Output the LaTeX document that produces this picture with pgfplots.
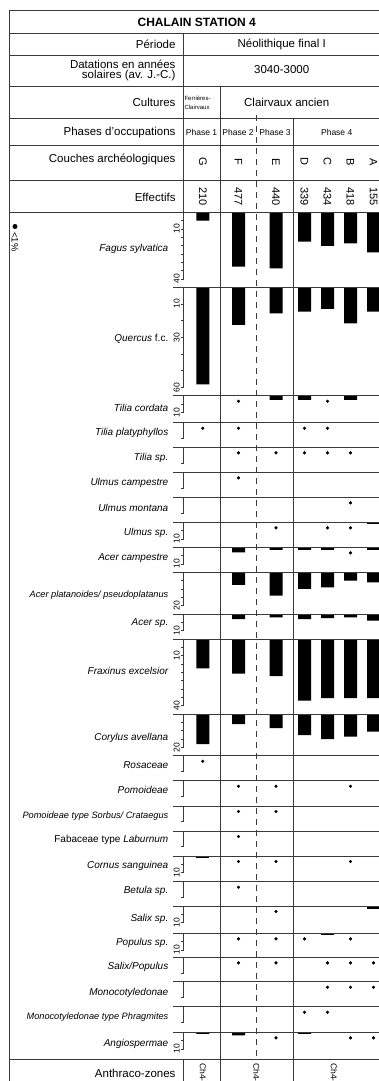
\documentclass[border=0pt]{standalone}
\usepackage{pgfplots}
\pgfplotsset{compat=1.18}
\usepackage{fontspec}
\setmainfont{Liberation Sans}

\definecolor{rule}{HTML}{3A3A3A}

\pgfplotsset{
  taxon/.style={
    anchor=north west, x=1pt, y=1.667pt, y dir=reverse,
    xmin=183.5, xmax=400, ymin=0,
    axis x line=none, axis y line*=left,
    axis line style={line width=0.8pt, rule},
    tick align=outside, major tick length=2.5pt, minor tick length=2.5pt,
    every tick/.style={line width=0.8pt, rule},
    yticklabel style={rotate=90, anchor=south, inner sep=1pt,
      font=\fontsize{8.5}{9}\selectfont},
    /pgf/number format/assume math mode=true,
    clip=false,
  },
  small/.style={ymax=9.4, ytick={9.4}, yticklabel style={opacity=0}},
  ten/.style={ymax=10, ytick={10}, minor ytick={5}},
}

% top of row, axis options, bars, dots (<1%), label, label y
\newcommand{\taxrow}[6]{%
  \begin{axis}[taxon, at={(183.5pt,-#1pt)}, #2]
    \if\relax\detokenize{#3}\relax\else
      \addplot[ybar, bar width=13pt, fill=black, draw=none] coordinates {#3};
    \fi
    \if\relax\detokenize{#4}\relax\else
      \addplot[only marks, mark=*, mark size=1.4pt, black,
        mark options={yshift=-4.7pt}] coordinates {#4};
    \fi
  \end{axis}
  \node[anchor=east, inner sep=0pt, font=\fontsize{10}{12}\selectfont\itshape]
    at (168.5pt,-#6pt) {#5};
  \draw[rule, line width=0.9pt] (173pt,-#1pt) -- (400pt,-#1pt);
}

\begin{document}
\begin{tikzpicture}
\useasboundingbox (0,0) rectangle (379pt,-1081pt);
\clip (0,0) rectangle (379pt,-1081pt);

\begin{scope}[x=1pt, y=-1pt]
  % frame and header lines
  \draw[rule, line width=0.9pt] (9.7,1090) -- (9.7,10.7) -- (400,10.7);
  \foreach \yy in {33.3,55.3,86.7,118.3,145,180,212.3,1059}
    \draw[rule, line width=0.9pt] (9.7,\yy) -- (400,\yy);
  \draw[rule, line width=0.9pt] (183.3,33.3) -- (183.3,212.3);
  \draw[rule, line width=0.9pt] (183.3,1059) -- (183.3,1090);
  \draw[rule, line width=0.9pt] (220.7,86.7) -- (220.7,1090);
  \draw[rule, line width=0.9pt] (293.7,118.3) -- (293.7,1090);
  \draw[rule, line width=0.9pt, dash pattern=on 6pt off 5pt] (256.3,115) -- (256.3,1059);

  \node[font=\fontsize{12}{14}\selectfont\bfseries] at (196.7,22.3) {CHALAIN STATION 4};
  \begin{scope}[every node/.style={font=\fontsize{11.5}{13}\selectfont, inner sep=0pt}]
    \node[anchor=east] at (175.7,44.3) {Période};
    \node at (281.7,44.3) {Néolithique final I};
    \node[anchor=east] at (175.7,64.3) {Datations en années};
    \node[anchor=east] at (175.7,75.5) {solaires (av. J.-C.)};
    \node at (281.7,69.3) {3040-3000};
    \node[anchor=east] at (175.7,102.7) {Cultures};
    \node at (286.7,102.7) {Clairvaux ancien};
    \node[anchor=east] at (175.7,132.3) {Phases d'occupations};
    \node[anchor=east] at (175.7,159.3) {Couches archéologiques};
    \node[anchor=east] at (175.7,197.5) {Effectifs};
    \node[anchor=east] at (175.7,1073.3) {Anthraco-zones};
  \end{scope}
  \node[anchor=west, inner sep=0pt, font=\fontsize{6}{6}\selectfont] at (184.3,98.3) {Ferrières-};
  \node[anchor=west, inner sep=0pt, font=\fontsize{6}{6}\selectfont] at (184.3,107.5) {Clairvaux};
  \begin{scope}[every node/.style={font=\fontsize{8.5}{10}\selectfont, inner sep=0pt}]
    \node at (201.5,132.3) {Phase 1};
    \node at (238,132.3) {Phase 2};
    \node at (275,132.3) {Phase 3};
    \node at (336.7,132.3) {Phase 4};
  \end{scope}
  \begin{scope}[every node/.style={font=\fontsize{11}{12}\selectfont, inner sep=0pt, rotate=-90}]
    \foreach \xx/\tt in {202.8/G,238.5/F,276/E,304.5/D,327.5/C,350.5/B,373.5/A}
      \node at (\xx,161.7) {\tt};
    \foreach \xx/\tt in {202.8/210,238.5/477,276/440,304.5/339,327.5/434,350.5/418,373.5/155}
      \node at (\xx,196.5) {\tt};
  \end{scope}
  \node[circle, fill=black, inner sep=0pt, minimum size=5pt] at (15,226.5) {};
  \node[rotate=-90, anchor=west, inner sep=0pt, font=\fontsize{9.5}{10}\selectfont] at (15,232) {<1\%};
  \begin{scope}[every node/.style={font=\fontsize{8.5}{10}\selectfont, inner sep=0pt, rotate=-90, anchor=west}]
    \node at (202.8,1063) {Ch4-1};
    \node at (256.5,1063) {Ch4-2};
    \node at (334,1063) {Ch4-3};
  \end{scope}
\end{scope}

% G 202.8, F 238.5, E 276, D 304.5, C 327.5, B 350.5, A 373.5
\taxrow{212.3}{ymax=40, ytick={10,40}, minor ytick={5,15,20,25,30,35}}
  {(202.8,5)(238.5,32.6)(276,33.6)(304.5,17.6)(327.5,20.2)(350.5,18.6)(373.5,24)}{}
  {Fagus sylvatica}{249.3}
\taxrow{287.3}{ymax=60, ytick={10,30,60}, minor ytick={20,40,50}}
  {(202.8,58.2)(238.5,22.6)(276,15.6)(304.5,14.6)(327.5,13)(350.5,21.6)(373.5,14.6)}{}
  {Quercus \textup{f.c.}}{339}
\taxrow{395.7}{ten}{(276,2.5)(304.5,2.5)(350.5,2.5)}{(238.5,0.5)(327.5,0.5)}
  {Tilia cordata}{407.7}
\taxrow{422.7}{small}{}{(202.8,0.5)(238.5,0.5)(304.5,0.5)(327.5,0.5)}
  {Tilia platyphyllos}{432.7}
\taxrow{447.3}{small}{}{(238.5,0.5)(276,0.5)(304.5,0.5)(327.5,0.5)(350.5,0.5)}
  {Tilia sp.}{458.3}
\taxrow{472.3}{small}{}{(238.5,0.5)}
  {Ulmus campestre}{483.3}
\taxrow{497.3}{small}{}{(350.5,0.5)}
  {Ulmus montana}{508.3}
\taxrow{522.3}{ten}{(373.5,1.2)}{(276,0.5)(327.5,0.5)(350.5,0.5)}
  {Ulmus sp.}{533.3}
\taxrow{547.3}{ten}{(238.5,3)(276,1.6)(304.5,1.6)(327.5,1.6)(373.5,1.6)}{(350.5,0.5)}
  {Acer campestre}{558.3}
\taxrow{572.3}{ymax=20, ytick={20}, minor ytick={5,10,15}}
  {(238.5,7.5)(276,14)(304.5,10)(327.5,9)(350.5,5)(373.5,6)}{}
  {{\fontsize{9.2}{11}\selectfont Acer platanoides/ pseudoplatanus}}{595}
\taxrow{614}{ten}{(238.5,3)(276,2)(304.5,3)(327.5,2.5)(350.5,2)(373.5,4)}{}
  {Acer sp.}{623.3}
\taxrow{639}{ymax=40, ytick={10,40}, minor ytick={5,15,20,25,30,35}}
  {(202.8,17.6)(238.5,20.8)(276,22.2)(304.5,36.9)(327.5,35.5)(350.5,35.5)(373.5,35.5)}{}
  {Fraxinus excelsior}{671}
\taxrow{714}{ymax=20, ytick={20}, minor ytick={5,10,15}}
  {(202.8,18)(238.5,6)(276,8.5)(304.5,12.6)(327.5,15)(350.5,13.6)(373.5,10.6)}{}
  {Corylus avellana}{737.7}
\taxrow{755.7}{small}{}{(202.8,0.5)}
  {Rosaceae}{765}
\taxrow{780.7}{small}{}{(238.5,0.5)(276,0.5)(350.5,0.5)}
  {Pomoideae}{790}
\taxrow{806}{small}{}{(238.5,0.5)(276,0.5)}
  {{\fontsize{9.2}{11}\selectfont Pomoideae type Sorbus/ Crataegus}}{815.7}
\taxrow{831}{small}{}{(238.5,0.5)}
  {\textup{Fabaceae type} Laburnum}{840}
\taxrow{856}{ten}{(202.8,1.4)}{(238.5,0.5)(276,0.5)(350.5,0.5)}
  {Cornus sanguinea}{866}
\taxrow{881.7}{small}{}{(238.5,0.5)}
  {Betula sp.}{890.7}
\taxrow{906}{ten}{(373.5,1.8)}{(276,0.5)}
  {Salix sp.}{919.3}
\taxrow{933.3}{ten}{(327.5,0.8)}{(238.5,0.5)(276,0.5)(304.5,0.5)(350.5,0.5)}
  {Populus sp.}{943.3}
\taxrow{957.3}{small}{}{(238.5,0.5)(276,0.5)(327.5,0.5)(350.5,0.5)(373.5,0.5)}
  {Salix/Populus}{967.3}
\taxrow{981.7}{small}{}{(327.5,0.5)(350.5,0.5)(373.5,0.5)}
  {Monocotyledonae}{992.7}
\taxrow{1006.7}{small}{}{(304.5,0.5)(327.5,0.5)}
  {{\fontsize{9.2}{11}\selectfont Monocotyledonae type Phragmites}}{1017.3}
\taxrow{1032.3}{ten}{(202.8,1)(238.5,1.8)(304.5,1)}{(276,0.5)(350.5,0.5)(373.5,0.5)}
  {Angiospermae}{1044}
\end{tikzpicture}
\end{document}
